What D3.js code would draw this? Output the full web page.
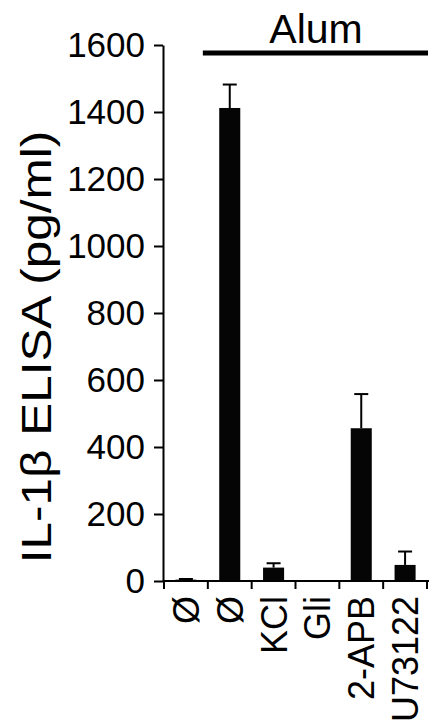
<!DOCTYPE html>
<html>
<head>
<meta charset="utf-8">
<script src="https://cdn.jsdelivr.net/npm/d3@7"></script>
<style>
  body { margin: 0; background: #fff; }
  svg { display: block; font-family: Arial, "Liberation Sans", sans-serif; }
</style>
</head>
<body>
<script>
var categories = ["Ø1", "Ø2", "KCl", "Gli", "2-APB", "U73122"];
var labels = ["Ø", "Ø", "KCl", "Gli", "2-APB", "U73122"];
var values = [4, 1412, 40, 2, 456, 48];
var errors = [2, 70, 13, 0, 102, 40];
var yTicks = [0, 200, 400, 600, 800, 1000, 1200, 1400, 1600];

var width = 429, height = 726;

var svg = d3.select("body").append("svg")
    .attr("width", width)
    .attr("height", height);

var x = d3.scaleBand()
    .domain(categories)
    .range([164, 427])
    .paddingInner(0);

var y = d3.scaleLinear()
    .domain([0, 1600])
    .range([581, 45]);

var barW = x.bandwidth() * 0.48;

// bars
svg.append("g")
  .selectAll("rect")
  .data(categories)
  .enter().append("rect")
    .attr("x", function(d) { return x(d) + (x.bandwidth() - barW) / 2; })
    .attr("y", function(d, i) { return y(values[i]); })
    .attr("width", barW)
    .attr("height", function(d, i) { return y(0) - y(values[i]); })
    .attr("fill", "#050505");

// error bars (upper only)
var err = svg.append("g")
  .selectAll("g")
  .data(categories.filter(function(d, i) { return errors[i] > 0; }))
  .enter().append("g")
    .attr("stroke", "#000")
    .attr("stroke-width", 2);

err.append("line")
    .attr("x1", function(d) { return x(d) + x.bandwidth() / 2; })
    .attr("x2", function(d) { return x(d) + x.bandwidth() / 2; })
    .attr("y1", function(d) { var i = categories.indexOf(d); return y(values[i]); })
    .attr("y2", function(d) { var i = categories.indexOf(d); return y(values[i] + errors[i]); });

err.append("line")
    .attr("x1", function(d) { return x(d) + x.bandwidth() / 2 - 7; })
    .attr("x2", function(d) { return x(d) + x.bandwidth() / 2 + 7; })
    .attr("y1", function(d) { var i = categories.indexOf(d); return y(values[i] + errors[i]); })
    .attr("y2", function(d) { var i = categories.indexOf(d); return y(values[i] + errors[i]); });

// y axis
var yAxis = svg.append("g")
    .attr("transform", "translate(163,0)")
    .call(d3.axisLeft(y).tickValues(yTicks).tickFormat(d3.format("d"))
      .tickSize(9).tickSizeOuter(0).tickPadding(9));

yAxis.select(".domain").attr("stroke-width", 2);
yAxis.selectAll(".tick line").attr("stroke-width", 2);
yAxis.selectAll(".tick text")
    .attr("font-size", 35)
    .attr("fill", "#000")
    .attr("font-family", "Arial, 'Liberation Sans', sans-serif");

// x axis baseline with boundary ticks
var bounds = categories.map(function(d) { return x(d); }).concat([x.range()[1]]);
var xAxis = svg.append("g").attr("stroke", "#000").attr("stroke-width", 2);
xAxis.append("line")
    .attr("x1", 163).attr("x2", 429)
    .attr("y1", y(0)).attr("y2", y(0));
xAxis.selectAll("line.tk")
  .data(bounds)
  .enter().append("line")
    .attr("class", "tk")
    .attr("x1", function(d) { return d; })
    .attr("x2", function(d) { return d; })
    .attr("y1", y(0))
    .attr("y2", y(0) + 8);

// x labels, rotated
svg.append("g")
  .selectAll("text")
  .data(categories)
  .enter().append("text")
    .attr("transform", function(d) {
      return "translate(" + (x(d) + x.bandwidth() / 2 + 13) + "," + (y(0) + 15) + ")rotate(-90)";
    })
    .attr("text-anchor", "end")
    .attr("font-size", 36)
    .text(function(d, i) { return labels[i]; });

// y title
svg.append("text")
    .attr("transform", "translate(51,347)rotate(-90)scale(1.15,1)")
    .attr("text-anchor", "middle")
    .attr("font-size", 43)
    .text("IL-1β ELISA (pg/ml)");

// Alum bracket
svg.append("line")
    .attr("x1", x(categories[1]) - 5)
    .attr("x2", 428)
    .attr("y1", 53).attr("y2", 53)
    .attr("stroke", "#000")
    .attr("stroke-width", 5);

svg.append("text")
    .attr("x", 316)
    .attr("y", 43)
    .attr("text-anchor", "middle")
    .attr("font-size", 41)
    .text("Alum");
</script>
</body>
</html>
